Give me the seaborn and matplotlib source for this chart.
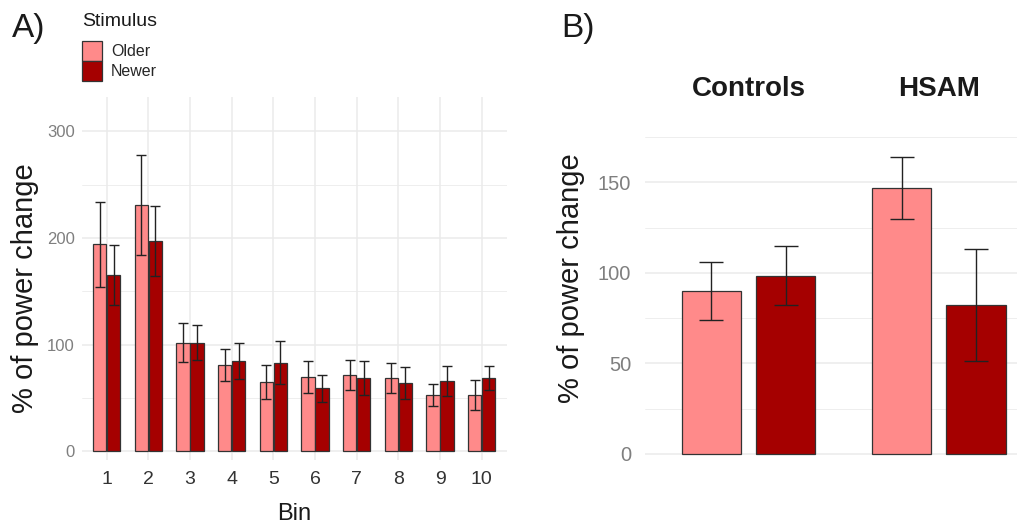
import numpy as np
import pandas as pd
import matplotlib
matplotlib.use("Agg")
import matplotlib.pyplot as plt
import seaborn as sns

# ---- data ----
bins = ['1', '2', '3', '4', '5', '6', '7', '8', '9', '10']
older_mean = [194, 231, 102, 81, 65, 70, 72, 69, 53, 53]
older_err = [40, 47, 18, 15, 16, 15, 14, 14, 10, 14]
newer_mean = [165, 197, 102, 85, 83, 59, 69, 64, 66, 69]
newer_err = [28, 33, 16, 17, 20, 13, 16, 15, 14, 11]

groups = ['Controls', 'HSAM']
grp_older_mean = [90, 147]
grp_older_err = [16, 17]
grp_newer_mean = [98.5, 82]
grp_newer_err = [16.5, 31]

stimuli = ['Older', 'Newer']

OLDER = '#FF8A8A'
NEWER = '#A50000'
EDGE = '#333333'
GRID = '#EBEBEB'

df_a = pd.DataFrame({
    'Bin': bins * 2,
    'Stimulus': ['Older'] * len(bins) + ['Newer'] * len(bins),
    'value': older_mean + newer_mean,
    'err': older_err + newer_err,
})
df_b = pd.DataFrame({
    'Group': groups * 2,
    'Stimulus': ['Older'] * len(groups) + ['Newer'] * len(groups),
    'value': grp_older_mean + grp_newer_mean,
    'err': grp_older_err + grp_newer_err,
})

sns.set_theme(style='white')
plt.rcParams['font.family'] = ['Liberation Sans', 'DejaVu Sans']

fig = plt.figure(figsize=(10.17, 5.25), dpi=100)
W, H = 1017, 525


def add_err(ax, df, order, capsize):
    # seaborn draws bars hue by hue, each in category order
    bars = ax.patches[:len(df)]
    i = 0
    for stim in stimuli:
        sub = df[df['Stimulus'] == stim].set_index(df.columns[0]).loc[order]
        for _, row in sub.iterrows():
            b = bars[i]
            xc = b.get_x() + b.get_width() / 2
            ax.errorbar(xc, row['value'], yerr=row['err'], fmt='none',
                        ecolor='#222222', elinewidth=1.0, capsize=capsize,
                        capthick=1.0, zorder=5)
            i += 1


def style_grid(ax):
    for s in ax.spines.values():
        s.set_visible(False)
    ax.set_axisbelow(True)


# ---- panel A ----
axA = fig.add_axes([81.7 / W, 1 - 460 / H, 425 / W, 363 / H])
sns.barplot(data=df_a, x='Bin', y='value', hue='Stimulus', order=bins,
            hue_order=stimuli, palette=[OLDER, NEWER], width=0.68, gap=0.06,
            edgecolor=EDGE, linewidth=0.9, saturation=1, errorbar=None, ax=axA)
add_err(axA, df_a, bins, 3.5)
axA.set_xlim(-0.6, 9.6)
axA.set_ylim(-8, 332)
axA.set_yticks([0, 100, 200, 300])
axA.set_yticks([50, 150, 250], minor=True)
axA.grid(True, which='major', color=GRID, linewidth=1.1)
axA.grid(True, which='minor', axis='y', color=GRID, linewidth=0.6)
axA.tick_params(axis='y', which='both', length=0, pad=5, labelsize=12, labelcolor='#7F7F7F')
axA.tick_params(axis='x', length=0, pad=8, labelsize=14, labelcolor='#333333')
axA.set_xlabel('Bin', fontsize=17, color='#1A1A1A', labelpad=11)
axA.set_ylabel('% of power change', fontsize=21, color='#1A1A1A')
axA.yaxis.set_label_coords(-0.10, 0.4725)
style_grid(axA)

handles, labels = axA.get_legend_handles_labels()
axA.get_legend().remove()
leg = fig.legend(handles, labels, loc='upper left',
                 bbox_to_anchor=(81.7 / W, 1 - 40.7 / H), frameon=False,
                 fontsize=11.5, handlelength=1.25, handleheight=1.55,
                 labelspacing=0.0, handletextpad=0.6, borderpad=0,
                 borderaxespad=0)
for h in leg.legend_handles:
    h.set_edgecolor(EDGE)
    h.set_linewidth(0.9)
fig.text(81.7 / W, 1 - 22 / H, 'Stimulus', fontsize=14, va='center', ha='left', color='#1A1A1A')

fig.text(12 / W, 1 - 29 / H, 'A)', fontsize=24, va='center', ha='left', color='#1A1A1A')

# ---- panel B ----
axB = fig.add_axes([645 / W, 1 - 468.2 / H, 408 / W, 340.1 / H])
sns.barplot(data=df_b, x='Group', y='value', hue='Stimulus', order=groups,
            hue_order=stimuli, palette=[OLDER, NEWER], width=0.78, gap=0.2,
            edgecolor=EDGE, linewidth=0.9, saturation=1, errorbar=None,
            legend=False, ax=axB)
add_err(axB, df_b, groups, 8.5)
axB.set_xlim(-0.543, 1.6)
axB.set_ylim(-8, 180)
axB.set_yticks([0, 50, 100, 150])
axB.set_yticks([25, 75, 125, 175], minor=True)
axB.grid(True, which='major', axis='y', color=GRID, linewidth=1.1)
axB.grid(True, which='minor', axis='y', color=GRID, linewidth=0.6)
axB.grid(False, axis='x')
axB.xaxis.tick_top()
axB.tick_params(axis='x', length=0, pad=19)
for t in axB.get_xticklabels():
    t.set_fontsize(20)
    t.set_fontweight('bold')
    t.set_color('#1A1A1A')
axB.tick_params(axis='y', which='both', length=0, pad=10, labelsize=14.5, labelcolor='#7F7F7F')
axB.set_xlabel('')
axB.set_ylabel('% of power change', fontsize=21, color='#1A1A1A')
axB.yaxis.set_label_coords(-0.147, 0.558)
style_grid(axB)

fig.text(561 / W, 1 - 29 / H, 'B)', fontsize=24, va='center', ha='left', color='#1A1A1A')

fig.savefig('out.png', dpi=100, facecolor='white')
